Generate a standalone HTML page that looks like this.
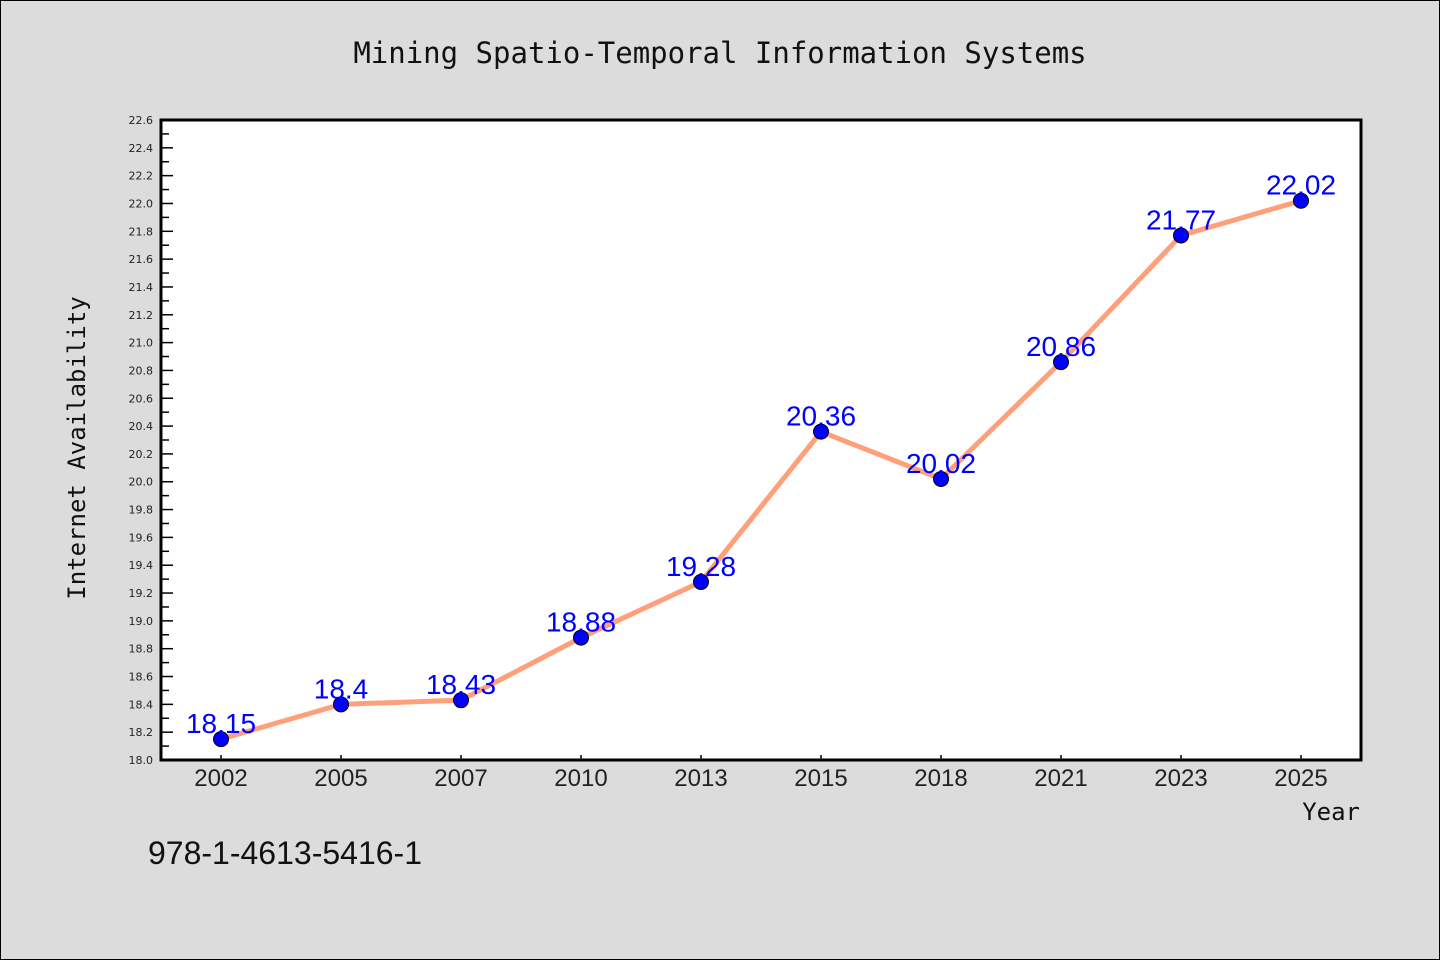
<!DOCTYPE html>
<html><head><meta charset="utf-8"><style>
html,body{margin:0;padding:0;background:#dcdcdc;}
svg{display:block;}
</style></head><body>
<svg id="chart" width="1440" height="960" xmlns="http://www.w3.org/2000/svg">
<rect x="0.5" y="0.5" width="1439" height="959" fill="#dcdcdc" stroke="#000"/>
<text x="720" y="63" text-anchor="middle" font-family="DejaVu Sans Mono, Liberation Mono, monospace" font-size="29" fill="#111">Mining Spatio-Temporal Information Systems</text>
<rect x="161" y="120" width="1200" height="640" fill="#fff"/>
<g id="yaxis"></g>
<g id="xaxis"></g>
<g id="series"></g>
<rect x="161" y="120" width="1200" height="640" fill="none" stroke="#000" stroke-width="3"/>
<text transform="translate(85,448) rotate(-90)" text-anchor="middle" font-family="DejaVu Sans Mono, Liberation Mono, monospace" font-size="24" fill="#111">Internet Availability</text>
<text x="1360" y="820" text-anchor="end" font-family="DejaVu Sans Mono, Liberation Mono, monospace" font-size="24" fill="#111">Year</text>
<text x="148" y="864" font-family="Liberation Sans, DejaVu Sans, sans-serif" font-size="32" fill="#111">978-1-4613-5416-1</text>
</svg>
<script>
const categories = ["2002","2005","2007","2010","2013","2015","2018","2021","2023","2025"];
const values = [18.15,18.4,18.43,18.88,19.28,20.36,20.02,20.86,21.77,22.02];
const valueLabels = ["18.15","18.4","18.43","18.88","19.28","20.36","20.02","20.86","21.77","22.02"];
const yTicks = [18.0,18.2,18.4,18.6,18.8,19.0,19.2,19.4,19.6,19.8,20.0,20.2,20.4,20.6,20.8,21.0,21.2,21.4,21.6,21.8,22.0,22.2,22.4,22.6];
const NS="http://www.w3.org/2000/svg";
const L=161,R=1361,T=120,B=760,yMin=18.0,yMax=22.6;
const step=(R-L)/categories.length;
const xPos=i=>L+step*(i+0.5);
const yPos=v=>B-(v-yMin)/(yMax-yMin)*(B-T);
function mk(tag,attrs,parent){const e=document.createElementNS(NS,tag);for(const k in attrs)e.setAttribute(k,attrs[k]);parent.appendChild(e);return e;}
const ya=document.getElementById('yaxis'),xa=document.getElementById('xaxis'),se=document.getElementById('series');
yTicks.forEach((v,i)=>{
  const y=yPos(v);
  const t=mk('line',{x1:L,x2:L+12,y1:y,y2:y,stroke:'#000','stroke-width':1.5},ya);
  
  
  const lb=mk('text',{x:153,y:y+4,'text-anchor':'end','font-family':'DejaVu Sans, Liberation Sans, sans-serif','font-size':11,fill:'#222'},ya);
  lb.textContent=v.toFixed(1);
  
  
  if(i<yTicks.length-1){
    const ym=yPos(v+0.1);
    const m=mk('line',{x1:L,x2:L+8,y1:ym,y2:ym,stroke:'#000','stroke-width':1.5},ya);
    
    
  }
});
categories.forEach((c,i)=>{
  const x=xPos(i);
  const t=mk('line',{x1:x,x2:x,y1:B-5,y2:B,stroke:'#000','stroke-width':1.5},xa);
  
  
  const lb=mk('text',{x:x,y:786,'text-anchor':'middle','font-family':'Liberation Sans, DejaVu Sans, sans-serif','font-size':24,fill:'#222'},xa);
  lb.textContent=c;
  
  
});
const pts=values.map((v,i)=>xPos(i)+','+yPos(v)).join(' ');
const pl=mk('polyline',{points:pts,fill:'none',stroke:'#ffa07a','stroke-width':5,'stroke-linejoin':'round'},se);


values.forEach((v,i)=>{
  const c=mk('circle',{cx:xPos(i),cy:yPos(v),r:7.5,fill:'#0000ff',stroke:'#000','stroke-width':1},se);
  
  
});
values.forEach((v,i)=>{
  const t=mk('text',{x:xPos(i),y:yPos(v)-6,'text-anchor':'middle','font-family':'Liberation Sans, DejaVu Sans, sans-serif','font-size':28,fill:'#0000ff'},se);
  t.textContent=valueLabels[i];
  
  
});
</script>
</body></html>
